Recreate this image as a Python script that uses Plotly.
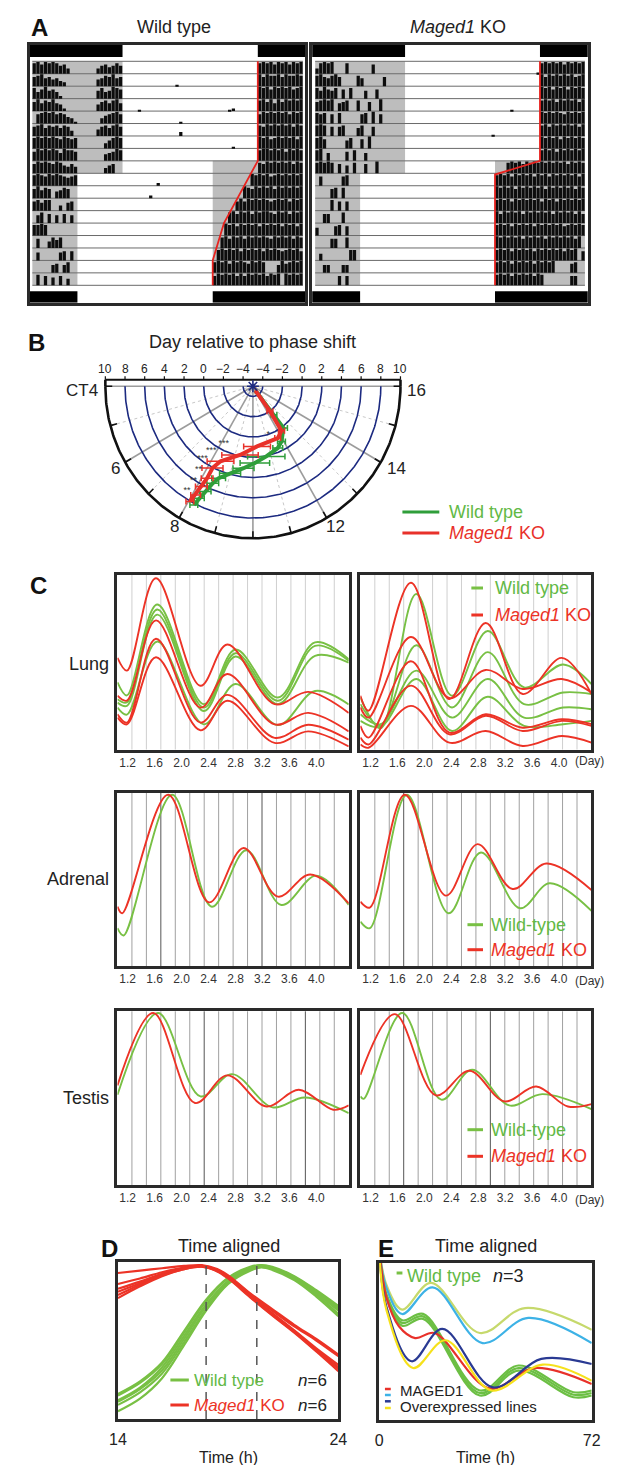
import numpy as np
import plotly.graph_objects as go

W, H = 617, 1465
FONT = "Liberation Sans, Arial, Helvetica, sans-serif"

# ---------------- Panel A : actograms ----------------
ROW_LIGHT_ON = [8, 8, 8, 8, 8, 8, 8, 8, 8, 4, 4, 4, 4, 4, 4, 4, 4, 4]
ROW_LIGHT_OFF = [20, 20, 20, 20, 20, 20, 20, 20, 16, 16, 16, 16, 16, 16, 16, 16, 16, 16]
TOP_BAR_LIGHT = [8, 20]
BOTTOM_BAR_LIGHT = [4, 16]

# activity per 20-min bin, 0-9; rows 0-8: 0-8h | 8-20h | 20-24h ; rows 9-17: 0-4h | 4-16h | 16-24h
WT_ACTIVITY = [
    "89798986740 000000 4675686 | 000000000000000000000000000000000000 | 898979897989",
    "7896756430 0000000 5687967 | 000000000000001000000000000000000000 | 979889798898",
    "8579675200 0000000 6856987 | 000000000000000000000000000000000000 | 989798989789",
    "7968796520 0000000 5786896 | 000010000000000000000000000012000000 | 897969798989",
    "078989787541 000000 467897 | 000000000000000100000000000000000000 | 798989897989",
    "789687868740 00000 5786897 | 000000000000000300000000000000000000 | 879898989798",
    "898989879878 0000000 46898 | 000000000000000000000000000001000000 | 989789898979",
    "798989869887 0000000 56798 | 000000000000000000000000000000000000 | 899898979898",
    "798987986575 0000000 46700 | 000000000000000000000000000000000000 | 879898989798",
    "898798987678 | 000000000000000000000200000000000000 | 0000000000 98989789898989",
    "796870568700 | 000000000000000000020000000000000000 | 00000000 9879898979898989",
    "786880040670 | 000000000000000000000000000000000000 | 000000 797989898789897989",
    "068070607060 | 000000000000000000000000000000000000 | 0000 89798979899879897989",
    "889800000000 | 000000000000000000000000000000000000 | 000 989798989798989798979",
    "070058680000 | 000000000000000000000000000000000000 | 00 8979897989898798989798",
    "060000067070 | 000000000000000000000000000000000000 | 0 89898979898979898789897",
    "000006706800 | 000000000000000000000000000000000000 | 898979898798980006978989",
    "080706070500 | 000000000000000000000000000000000000 | 798989797989897989098989",
]
KO_ACTIVITY = [
    "489890008000000700000000 | 000000000000000000000000000000000001 | 898989798989",
    "897689700008600000700000 | 000000000000000000000000000000000000 | 979898989789",
    "869768070800060070000000 | 000000000000000000000000000000000000 | 989798979898",
    "789890678008007009000000 | 000000000000000000000000000010000000 | 898979898979",
    "878070800000780907000000 | 000000000000000000000000000000000000 | 989898798989",
    "898070780006800700000000 | 000000000000000000000001000000000000 | 897989898979",
    "897000006800709000000000 | 000000000000000000000000000000000000 | 989897989898",
    "890600007080060000000000 | 000000000000000000000000000000000000 | 898979898989",
    "898980706080070090000000 | 000000000000000000000000000 898979898 | 989898979898",
    "070000078000 | 000000000000000000000000000000000000 | 898979898979897989898979",
    "000078080000 | 000000000000000000000000000000000000 | 989897989898979898989798",
    "000080707000 | 000000000000000000000000000000000000 | 898979898989798979898989",
    "007700080000 | 000000000000000000000000000000000000 | 979898979898989798989797",
    "600007807000 | 000000000000000000000000000000000000 | 898979898979898989789898",
    "000077008000 | 000000000000000000000000000000000000 | 989898979898979898989790",
    "050000000880 | 000000000000000000000000000000000000 | 898979898979898989798907",
    "006600066000 | 000000000000000000000000000000000000 | 898979898979898900007800",
    "000000707000 | 000000000000000000000000000000000000 | 898979898979800000007700",
]
WT_ONSET_H = [20, 20, 17, 16, 16]
WT_ONSET_ROW = [18, 10, 5, 2, 0]
KO_ONSET_H = [20, 20, 16, 16]
KO_ONSET_ROW = [18, 10, 8.9, 0]

# ---------------- Panel B : phase plot ----------------
B_RED_DAY = [-4.5, -2.0, 0.26, 0.7, 0.95, 1.9, 3.1, 4.05, 5.2, 6.2, 7.2, 8.05]
B_RED_CT = [12.1, 12.35, 12.24, 11.75, 10.27, 9.27, 8.4, 8.2, 8.19, 8.14, 8.1, 8.04]
B_RED_ERR = [0, 0.3, 0.3, 0.3, 1.36, 1.85, 1.36, 1.07, 0.6, 0.6, 0.5, 0.4]
B_GRN_DAY = [-4.5, -1.48, 0.16, 1.17, 1.6, 2.05, 2.58, 3.14, 3.88, 4.72, 5.4, 6.47, 7.31, 8.16]
B_GRN_CT = [12.1, 12.49, 12.47, 11.87, 11.5, 10.74, 10.1, 9.55, 8.99, 8.6, 8.46, 8.33, 8.25, 8.19]
B_GRN_ERR = [0, 0.3, 0.4, 0.4, 0.5, 1.9, 1.5, 1.07, 1.07, 0.7, 0.6, 0.6, 0.5, 0.4]
B_STAR_DAY = [1.4, 2.6, 3.8, 4.95, 6.1, 7.3, 0.03]
B_STAR_CT = [8.17, 7.75, 7.63, 7.75, 7.8, 7.8, 11.2]
B_STAR_TXT = ["***", "***", "***", "**", "**", "**", "*"]
B_RING_DAYS = [-4, -2, 0, 2, 4, 6, 8]
B_OUTER_DAY = 10
B_DAY_TICKS = [10, 8, 6, 4, 2, 0, -2, -4]
B_CT_LABELS = ["CT4", "6", "8", "12", "14", "16"]

# ---------------- Panel C : bioluminescence ----------------
C_TICKS = [1.2, 1.6, 2.0, 2.4, 2.8, 3.2, 3.6, 4.0]
C_TICK_TEXT = ["1.2", "1.6", "2.0", "2.4", "2.8", "3.2", "3.6", "4.0"]
C_X0, C_X1 = 1.05, 4.48

LUNG_L_RED_DAY = [1.05, 1.19, 1.62, 2.28, 2.68, 3.38, 3.88, 4.48]
LUNG_L_RED = [
    [0.525, 0.452, 0.981, 0.365, 0.602, 0.26, 0.33, 0.21],
    [0.308, 0.28, 0.74, 0.24, 0.433, 0.144, 0.21, 0.104],
    [0.202, 0.154, 0.635, 0.154, 0.313, 0.067, 0.142, 0.056],
    [0.183, 0.144, 0.529, 0.11, 0.279, 0.038, 0.104, 0.017],
]
LUNG_L_GRN_DAY = [1.05, 1.19, 1.64, 2.33, 2.8, 3.43, 3.98, 4.48]
LUNG_L_GRN = [
    [0.385, 0.31, 0.831, 0.26, 0.573, 0.298, 0.614, 0.517],
    [0.288, 0.27, 0.802, 0.24, 0.552, 0.279, 0.594, 0.508],
    [0.269, 0.25, 0.773, 0.221, 0.533, 0.26, 0.537, 0.498],
    [0.24, 0.2, 0.619, 0.144, 0.375, 0.14, 0.335, 0.258],
]
LUNG_R_RED_DAY = [1.05, 1.17, 1.8, 2.37, 2.91, 3.46, 4.04, 4.48]
LUNG_R_RED = [
    [0.308, 0.222, 0.956, 0.289, 0.725, 0.318, 0.525, 0.318],
    [0.241, 0.183, 0.645, 0.295, 0.456, 0.347, 0.404, 0.327],
    [0.135, 0.068, 0.506, 0.097, 0.202, 0.125, 0.173, 0.145],
    [0.068, 0.029, 0.366, 0.087, 0.193, 0.106, 0.164, 0.135],
    [0.029, 0.01, 0.25, 0.039, 0.106, 0.02, 0.077, 0.039],
]
LUNG_R_GRN_DAY = [1.05, 1.35, 1.88, 2.41, 2.94, 3.48, 4.06, 4.48]
LUNG_R_GRN = [
    [0.298, 0.122, 0.891, 0.308, 0.679, 0.356, 0.487, 0.375],
    [0.26, 0.135, 0.597, 0.241, 0.558, 0.26, 0.327, 0.318],
    [0.202, 0.145, 0.452, 0.183, 0.404, 0.183, 0.241, 0.231],
    [0.164, 0.13, 0.404, 0.106, 0.302, 0.135, 0.145, 0.164],
]
ADR_L_RED_DAY = [1.05, 1.12, 1.8, 2.41, 2.92, 3.43, 3.91, 4.48]
ADR_L_RED = [[0.344, 0.306, 0.99, 0.369, 0.683, 0.402, 0.53, 0.363]]
ADR_L_GRN_DAY = [1.05, 1.14, 1.86, 2.45, 2.96, 3.48, 4.0, 4.48]
ADR_L_GRN = [[0.22, 0.178, 0.99, 0.344, 0.67, 0.354, 0.523, 0.354]]
ADR_R_RED_DAY = [1.05, 1.19, 1.71, 2.32, 2.79, 3.31, 3.81, 4.48]
ADR_R_RED = [[0.373, 0.339, 0.99, 0.408, 0.705, 0.446, 0.593, 0.44]]
ADR_R_GRN_DAY = [1.05, 1.19, 1.74, 2.36, 2.84, 3.42, 3.86, 4.48]
ADR_R_GRN = [[0.258, 0.22, 0.99, 0.306, 0.657, 0.335, 0.479, 0.32]]
TES_L_RED_DAY = [1.05, 1.58, 2.2, 2.68, 3.26, 3.74, 4.25, 4.48]
TES_L_RED = [[0.574, 0.99, 0.473, 0.632, 0.453, 0.549, 0.434, 0.459]]
TES_L_GRN_DAY = [1.05, 1.65, 2.28, 2.75, 3.35, 3.83, 4.48]
TES_L_GRN = [[0.52, 0.99, 0.511, 0.639, 0.448, 0.505, 0.415]]
TES_R_RED_DAY = [1.05, 1.56, 2.17, 2.67, 3.19, 3.66, 4.13, 4.48]
TES_R_RED = [[0.635, 0.984, 0.517, 0.658, 0.482, 0.568, 0.453, 0.467]]
TES_R_GRN_DAY = [1.05, 1.1, 1.67, 2.25, 2.71, 3.26, 3.75, 4.48]
TES_R_GRN = [[0.511, 0.497, 0.99, 0.492, 0.664, 0.459, 0.524, 0.438]]

# ---------------- Panel D ----------------
D_GRN_T = [14, 15, 16, 17, 18, 19, 20, 20.5, 21, 22, 23, 24]
D_GRN = [
    [0.16, 0.24, 0.36, 0.56, 0.76, 0.90, 0.97, 0.98, 0.97, 0.91, 0.82, 0.72],
    [0.15, 0.23, 0.35, 0.55, 0.75, 0.895, 0.965, 0.978, 0.965, 0.905, 0.815, 0.71],
    [0.12, 0.20, 0.33, 0.53, 0.73, 0.88, 0.96, 0.975, 0.96, 0.90, 0.81, 0.70],
    [0.11, 0.19, 0.31, 0.51, 0.72, 0.875, 0.955, 0.97, 0.955, 0.895, 0.80, 0.69],
    [0.09, 0.17, 0.29, 0.49, 0.70, 0.865, 0.95, 0.968, 0.955, 0.89, 0.79, 0.67],
    [0.05, 0.13, 0.26, 0.47, 0.69, 0.86, 0.945, 0.965, 0.95, 0.885, 0.78, 0.655],
]
D_RED_T = [14, 15, 16, 17, 17.8, 18.5, 19, 20, 21, 22, 23, 24]
D_RED = [
    [0.93, 0.945, 0.96, 0.975, 0.98, 0.955, 0.915, 0.80, 0.70, 0.60, 0.51, 0.41],
    [0.86, 0.895, 0.935, 0.965, 0.975, 0.95, 0.91, 0.795, 0.69, 0.59, 0.50, 0.40],
    [0.83, 0.875, 0.925, 0.96, 0.975, 0.95, 0.905, 0.785, 0.675, 0.565, 0.45, 0.345],
    [0.81, 0.865, 0.92, 0.96, 0.975, 0.945, 0.90, 0.78, 0.67, 0.56, 0.44, 0.33],
    [0.79, 0.855, 0.915, 0.955, 0.97, 0.945, 0.90, 0.78, 0.665, 0.555, 0.435, 0.32],
    [0.77, 0.845, 0.91, 0.955, 0.97, 0.94, 0.895, 0.775, 0.66, 0.55, 0.43, 0.305],
]
D_PEAK_LINES = [18.0, 20.3]

# ---------------- Panel E ----------------
E_LG_T = [0, 2.5, 7.8, 17.6, 34.1, 49.4, 72]
E_LG = [1.1, 0.86, 0.703, 0.873, 0.554, 0.713, 0.575]
E_LB_T = [0, 2.5, 7.8, 18.1, 35, 50.5, 72]
E_LB = [1.1, 0.84, 0.675, 0.845, 0.49, 0.65, 0.49]
E_WT_T = [0, 2.5, 7.8, 14.9, 34.1, 47.2, 65.8, 72]
E_WT = [
    [1.1, 0.80, 0.635, 0.676, 0.188, 0.347, 0.177, 0.188],
    [1.1, 0.79, 0.618, 0.66, 0.172, 0.331, 0.161, 0.172],
    [1.1, 0.78, 0.60, 0.644, 0.156, 0.315, 0.145, 0.156],
]
E_RED_T = [0, 2.5, 6.7, 12.2, 18.8, 37.4, 52.7, 72]
E_RED = [1.1, 0.78, 0.597, 0.522, 0.554, 0.2, 0.331, 0.229]
E_DB_T = [0, 2.5, 11, 21.4, 38.5, 54.9, 72]
E_DB = [1.1, 0.72, 0.374, 0.58, 0.208, 0.389, 0.357]
E_YE_T = [0, 2.5, 11.5, 22.5, 38, 55.4, 72]
E_YE = [1.1, 0.70, 0.331, 0.508, 0.189, 0.353, 0.25]

# ---------------- colours ----------------
GRN_C = "#78c044"
RED_C = "#ec3326"
GRN_B = "#2f9e3a"
RED_B = "#e8312a"
GRN_TXT = "#62b946"
NAVY = "#1c2a80"

# =====================================================
traces, shapes, anns = [], [], []
layout = dict(width=W, height=H, margin=dict(l=0, r=0, t=0, b=0),
              paper_bgcolor="white", plot_bgcolor="white", showlegend=False,
              barmode="overlay", font=dict(family=FONT, color="#222"))


def refs(n):
    return ("x", "y") if n == 1 else (f"x{n}", f"y{n}")


def add_axes(n, x0, x1, y0, y1, xr, yr, frame=True, lw=2.5, xkw=None):
    xk = "xaxis" if n == 1 else f"xaxis{n}"
    yk = "yaxis" if n == 1 else f"yaxis{n}"
    xa, ya = refs(n)
    base = dict(showgrid=False, zeroline=False, showticklabels=False, ticks="",
                fixedrange=True, showline=frame, mirror=frame,
                linecolor="#2a2a2a", linewidth=lw)
    xd = dict(base, domain=[x0 / W, x1 / W], range=xr, anchor=ya)
    if xkw:
        xd.update(xkw)
    layout[xk] = xd
    layout[yk] = dict(base, domain=[1 - y1 / H, 1 - y0 / H], range=yr, anchor=xa)


def text(t, x, y, size=18, color="#222", xanchor="center", yanchor="middle",
         xref="paper", yref="paper"):
    if xref == "paper":
        x = x / W
    if yref == "paper":
        y = 1 - y / H
    anns.append(dict(text=t, x=x, y=y, xref=xref, yref=yref, showarrow=False,
                     font=dict(size=size, color=color, family=FONT),
                     xanchor=xanchor, yanchor=yanchor))


def dash(x0, x1, y, color, width=3):
    shapes.append(dict(type="line", xref="paper", yref="paper", x0=x0 / W, x1=x1 / W,
                       y0=1 - y / H, y1=1 - y / H, line=dict(color=color, width=width)))


# ---------------- Panel A ----------------
def parse_row(s, r):
    lens = (24, 36, 12) if r < 9 else (12, 36, 24)
    parts = s.replace(" ", "").split("|")
    digits = "".join(p.ljust(n, "0")[:n] for p, n in zip(parts, lens))
    return [int(c) for c in digits]


def actogram(n, rows, onset_h, onset_row, px0, px1, hx0, hx1):
    xa, ya = refs(n)
    ypx0, ypx1 = 36.7, 294.7
    per = (277.3 - 53.3) / 18
    ytop = 18 + (53.3 - ypx0) / per
    ybot = 0 - (ypx1 - 277.3) / per
    hpp = 24 / (hx1 - hx0)
    xr = [-(hx0 - px0) * hpp, 24 + (px1 - hx1) * hpp]
    add_axes(n, px0, px1, ypx0, ypx1, xr, [ybot, ytop])
    for r in range(18):
        for a, b in [(0, ROW_LIGHT_ON[r]), (ROW_LIGHT_OFF[r], 24)]:
            shapes.append(dict(type="rect", xref=xa, yref=ya, x0=a, x1=b, y0=17 - r,
                               y1=18 - r, fillcolor="#bdbdbd", line=dict(width=0), layer="below"))
    for k in range(19):
        shapes.append(dict(type="line", xref=xa, yref=ya, x0=0, x1=24, y0=k, y1=k,
                           line=dict(color="#6a6a6a", width=1), layer="below"))
    ytb = 18 + (53.3 - 49) / per
    ybb = 0 - (283.3 - 277.3) / per
    for a, b in [(xr[0], TOP_BAR_LIGHT[0]), (TOP_BAR_LIGHT[1], xr[1])]:
        shapes.append(dict(type="rect", xref=xa, yref=ya, x0=a, x1=b, y0=ytb, y1=ytop,
                           fillcolor="#000", line=dict(width=0), layer="below"))
    for a, b in [(xr[0], BOTTOM_BAR_LIGHT[0]), (BOTTOM_BAR_LIGHT[1], xr[1])]:
        shapes.append(dict(type="rect", xref=xa, yref=ya, x0=a, x1=b, y0=ybot, y1=ybb,
                           fillcolor="#000", line=dict(width=0), layer="below"))
    xs, ys, bs = [], [], []
    for r, s in enumerate(rows):
        for i, d in enumerate(parse_row(s, r)):
            if d > 0:
                xs.append((i + 0.5) / 3)
                ys.append(d / 9 * 0.95)
                bs.append(17 - r)
    traces.append(go.Bar(x=xs, y=ys, base=bs, width=0.29, xaxis=xa, yaxis=ya,
                         marker=dict(color="#0d0d0d", line=dict(width=0)), hoverinfo="skip"))
    traces.append(go.Scatter(x=onset_h, y=onset_row, mode="lines", xaxis=xa, yaxis=ya,
                             line=dict(color="#e8231f", width=1.8), hoverinfo="skip"))


actogram(1, WT_ACTIVITY, WT_ONSET_H, WT_ONSET_ROW, 13, 297, 15.8, 294.5)
actogram(2, KO_ACTIVITY, KO_ONSET_H, KO_ONSET_ROW, 304, 588, 307.1, 585.0)
text("<b>A</b>", 23, 20, size=24, color="#111")
text("Wild type", 162, 19, size=18)
text("<i>Maged1</i> KO", 454, 19, size=18)

# ---------------- Panel B ----------------
BN = 3
bxa, bya = refs(BN)
unit = 152.0 / 15
cx, cy = 243.0, 378.3
bx0, bx1, by0, by1 = 40, 446, 345, 545
add_axes(BN, bx0, bx1, by0, by1, [(bx0 - cx) / unit, (bx1 - cx) / unit],
         [-(by1 - cy) / unit, (cy - by0) / unit], frame=False)


def polar_xy(day, ct):
    r = np.asarray(day, dtype=float) + 5.0
    phi = np.pi + (np.asarray(ct, dtype=float) - 4.0) * np.pi / 12
    return r * np.cos(phi), r * np.sin(phi)


def seg_trace(xs, ys, color, width, dashs=None):
    traces.append(go.Scatter(x=xs, y=ys, mode="lines", xaxis=bxa, yaxis=bya,
                             line=dict(color=color, width=width, dash=dashs),
                             hoverinfo="skip"))


ang = np.linspace(np.pi, 2 * np.pi, 241)
R_OUT = B_OUTER_DAY + 5
xs, ys = [], []
for ct in [5, 7, 9, 11, 13, 15]:
    ex, ey = polar_xy([-5, B_OUTER_DAY], [ct, ct])
    xs += list(ex) + [None]
    ys += list(ey) + [None]
seg_trace(xs, ys, "#c8c8c8", 1, "dot")
xs, ys = [], []
for ct in [6, 8, 10, 12, 14]:
    ex, ey = polar_xy([-5, B_OUTER_DAY], [ct, ct])
    xs += list(ex) + [None]
    ys += list(ey) + [None]
seg_trace(xs, ys, "#9c9c9c", 1.6)
seg_trace([-R_OUT, R_OUT], [0, 0], "#9c9c9c", 1.6)
xs, ys = [], []
for d in B_RING_DAYS:
    rr = d + 5
    xs += list(rr * np.cos(ang)) + [None]
    ys += list(rr * np.sin(ang)) + [None]
seg_trace(xs, ys, NAVY, 1.6)
seg_trace(list(R_OUT * np.cos(ang)), list(R_OUT * np.sin(ang)), "#111", 2.6)
xs, ys = [], []
for ct in range(4, 17):
    ex, ey = polar_xy([B_OUTER_DAY, B_OUTER_DAY - 0.7], [ct, ct])
    xs += list(ex) + [None]
    ys += list(ey) + [None]
seg_trace(xs, ys, "#111", 1.6)
top_y = (cy - 371.7) / unit
seg_trace([-R_OUT, R_OUT], [top_y, top_y], "#111", 2)
xs, ys = [], []
for side in (-1, 1):
    for d in B_DAY_TICKS:
        xx = side * (d + 5)
        xs += [xx, xx, None]
        ys += [top_y, top_y + 0.35, None]
seg_trace(xs, ys, "#111", 1.2)
seg_trace([-R_OUT, -R_OUT, None, R_OUT, R_OUT], [0, top_y, None, 0, top_y], "#111", 2.6)
lab_y = (cy - 361) / unit
for side in (-1, 1):
    for d in B_DAY_TICKS:
        t = str(d) if d >= 0 else "\u2212" + str(-d)
        text(t, side * (d + 5), lab_y, size=12, xref=bxa, yref=bya)
gx, gy = polar_xy(B_GRN_DAY, B_GRN_CT)
traces.append(go.Scatter(x=gx, y=gy, mode="lines", xaxis=bxa, yaxis=bya,
                         line=dict(color=GRN_B, width=4),
                         error_x=dict(type="data", array=B_GRN_ERR, color=GRN_B,
                                      thickness=1.5, width=3), hoverinfo="skip"))
rx, ry = polar_xy(B_RED_DAY, B_RED_CT)
traces.append(go.Scatter(x=rx, y=ry, mode="lines", xaxis=bxa, yaxis=bya,
                         line=dict(color=RED_B, width=4),
                         error_x=dict(type="data", array=B_RED_ERR, color=RED_B,
                                      thickness=1.5, width=3), hoverinfo="skip"))
traces.append(go.Scatter(x=[0], y=[0], mode="markers", xaxis=bxa, yaxis=bya,
                         marker=dict(symbol="asterisk-open", size=10, color=NAVY,
                                     line=dict(color=NAVY, width=1.6)),
                         hoverinfo="skip"))
sx, sy = polar_xy(B_STAR_DAY, B_STAR_CT)
traces.append(go.Scatter(x=sx, y=sy, mode="text", text=B_STAR_TXT, xaxis=bxa, yaxis=bya,
                         textfont=dict(size=9, color="#333", family=FONT),
                         textposition="middle center", hoverinfo="skip"))
text("<b>B</b>", 20, 335, size=24, color="#111")
text("Day relative to phase shift", 243, 334, size=18)
text(B_CT_LABELS[0], 86, 382, size=17, xanchor="right")
text(B_CT_LABELS[5], 411, 382, size=17)
text(B_CT_LABELS[1], 101, 460, size=17)
text(B_CT_LABELS[4], 391, 460, size=17)
text(B_CT_LABELS[2], 162, 518, size=17)
text(B_CT_LABELS[3], 328, 518, size=17)
dash(397, 435, 504, GRN_B, 3)
dash(397, 435, 525, RED_B, 3)
text("Wild type", 443, 504, size=18, color=GRN_TXT, xanchor="left")
text("<i>Maged1</i> KO", 443, 525, size=18, color=RED_B, xanchor="left")

# ---------------- Panel C ----------------
CL = (103.5, 341.7)
CR = (353.7, 591.7)
C_PANELS = [
    (4, CL, 567, 741.5, LUNG_L_RED_DAY, LUNG_L_RED, LUNG_L_GRN_DAY, LUNG_L_GRN, "#cfcfcf", []),
    (5, CR, 567, 741.5, LUNG_R_RED_DAY, LUNG_R_RED, LUNG_R_GRN_DAY, LUNG_R_GRN, "#cfcfcf", []),
    (6, CL, 785, 958.3, ADR_L_RED_DAY, ADR_L_RED, ADR_L_GRN_DAY, ADR_L_GRN, "#a0a0a0", [3, 10]),
    (7, CR, 785, 958.3, ADR_R_RED_DAY, ADR_R_RED, ADR_R_GRN_DAY, ADR_R_GRN, "#a0a0a0", [3]),
    (8, CL, 1003.3, 1177.3, TES_L_RED_DAY, TES_L_RED, TES_L_GRN_DAY, TES_L_GRN, "#a0a0a0", [6, 13]),
    (9, CR, 1003.3, 1177.3, TES_R_RED_DAY, TES_R_RED, TES_R_GRN_DAY, TES_R_GRN, "#a0a0a0", [3, 9]),
]
for n, (x0, x1), y0, y1, rxd, rys, gxd, gys, gcol, dark in C_PANELS:
    xa, ya = refs(n)
    add_axes(n, x0, x1, y0, y1, [C_X0, C_X1], [0, 1.0],
             xkw=dict(showticklabels=True, tickvals=C_TICKS, ticktext=C_TICK_TEXT,
                      tickfont=dict(size=12, color="#333", family=FONT)))
    for k in range(1, 16):
        gxv = C_X0 + k * (C_X1 - C_X0) / 16
        shapes.append(dict(type="line", xref=xa, yref=f"{ya} domain", x0=gxv, x1=gxv,
                           y0=0, y1=1, layer="below",
                           line=dict(color="#555" if k in dark else gcol, width=1)))
    for g in gys:
        traces.append(go.Scatter(x=gxd, y=g, mode="lines", xaxis=xa, yaxis=ya,
                                 line=dict(color=GRN_C, width=1.9, shape="spline", smoothing=1.0),
                                 hoverinfo="skip"))
    for rr in rys:
        traces.append(go.Scatter(x=rxd, y=rr, mode="lines", xaxis=xa, yaxis=ya,
                                 line=dict(color=RED_C, width=1.9, shape="spline", smoothing=1.0),
                                 hoverinfo="skip"))
text("<b>C</b>", 22, 577, size=24, color="#111")
text("Lung", 97, 656, size=18, xanchor="right")
text("Adrenal", 97, 871, size=18, xanchor="right")
text("Testis", 97, 1090, size=18, xanchor="right")
for yy in (753.3, 972.7, 1191.7):
    text("(Day)", 573, yy, size=12, color="#333", xanchor="left")
dash(468, 480, 580, GRN_C, 3)
dash(468, 480, 607, RED_C, 3)
text("Wild type", 490, 580, size=18, color=GRN_TXT, xanchor="left")
text("<i>Maged1</i> KO", 490, 607, size=18, color=RED_C, xanchor="left")
for ya_, yb_ in ((916.7, 941.7), (1121.7, 1148.3)):
    dash(464, 480, ya_, GRN_C, 3)
    dash(464, 480, yb_, RED_C, 3)
    text("Wild-type", 486, ya_, size=18, color=GRN_TXT, xanchor="left")
    text("<i>Maged1</i> KO", 486, yb_, size=18, color=RED_C, xanchor="left")

# ---------------- Panel D ----------------
DN = 10
dxa, dya = refs(DN)
add_axes(DN, 104, 331, 1254, 1411, [14, 24], [0, 1],
         xkw=dict(showticklabels=True, tickvals=[14, 24], ticktext=["14", "24"],
                  tickfont=dict(size=16, color="#222", family=FONT), ticklabelstandoff=4))
for xv in D_PEAK_LINES:
    shapes.append(dict(type="line", xref=dxa, yref=f"{dya} domain", x0=xv, x1=xv, y0=0, y1=1,
                       line=dict(color="#555", width=1.5, dash="dash")))
for g in D_GRN:
    traces.append(go.Scatter(x=D_GRN_T, y=g, mode="lines", xaxis=dxa, yaxis=dya,
                             line=dict(color=GRN_C, width=2.2, shape="spline"), hoverinfo="skip"))
for rr in D_RED:
    traces.append(go.Scatter(x=D_RED_T, y=rr, mode="lines", xaxis=dxa, yaxis=dya,
                             line=dict(color=RED_C, width=2.2, shape="spline"), hoverinfo="skip"))
text("<b>D</b>", 95, 1240, size=24, color="#111")
text("Time aligned", 218, 1238, size=18)
text("Time (h)", 218, 1449, size=16)
dash(158, 177, 1372, GRN_C, 3)
dash(158, 177, 1397, RED_C, 3)
text("Wild type", 180, 1372, size=17, color=GRN_TXT, xanchor="left")
text("<i>Maged1</i> KO", 180, 1397, size=17, color=RED_C, xanchor="left")
text("<i>n</i>=6", 321, 1372, size=17, xanchor="right")
text("<i>n</i>=6", 321, 1397, size=17, xanchor="right")

# ---------------- Panel E ----------------
EN = 11
exa, eya = refs(EN)
add_axes(EN, 373, 592, 1255, 1412, [0, 72], [0, 1],
         xkw=dict(showticklabels=True, tickvals=[0, 72], ticktext=["0", "72"],
                  tickfont=dict(size=16, color="#222", family=FONT), ticklabelstandoff=4))


def e_line(t, v, color):
    traces.append(go.Scatter(x=t, y=v, mode="lines", xaxis=exa, yaxis=eya,
                             line=dict(color=color, width=2.2, shape="spline"), hoverinfo="skip"))


e_line(E_LG_T, E_LG, "#c6d96c")
e_line(E_LB_T, E_LB, "#3db2e6")
for g in E_WT:
    e_line(E_WT_T, g, "#6cbf44")
e_line(E_RED_T, E_RED, "#e8312a")
e_line(E_DB_T, E_DB, "#2a3a93")
e_line(E_YE_T, E_YE, "#f6e11b")
text("<b>E</b>", 380, 1240, size=24, color="#111")
text("Time aligned", 483, 1238, size=18)
text("Time (h)", 483, 1449, size=16)
dash(391, 397, 1265, GRN_C, 3)
text("Wild type", 400, 1268, size=18, color=GRN_TXT, xanchor="left")
text("<i>n</i>=3", 488, 1268, size=18, xanchor="left")
for yy, col in zip((1381, 1387, 1393.3, 1400), ("#e8312a", "#3db2e6", "#2a3a93", "#f6e11b")):
    dash(379, 385, yy, col, 2.5)
text("MAGED1", 392, 1382, size=15, xanchor="left")
text("Overexpressed lines", 392, 1398, size=15, xanchor="left")

layout["shapes"] = shapes
layout["annotations"] = anns
fig = go.Figure(data=traces, layout=layout)
fig.write_html("out.html")
